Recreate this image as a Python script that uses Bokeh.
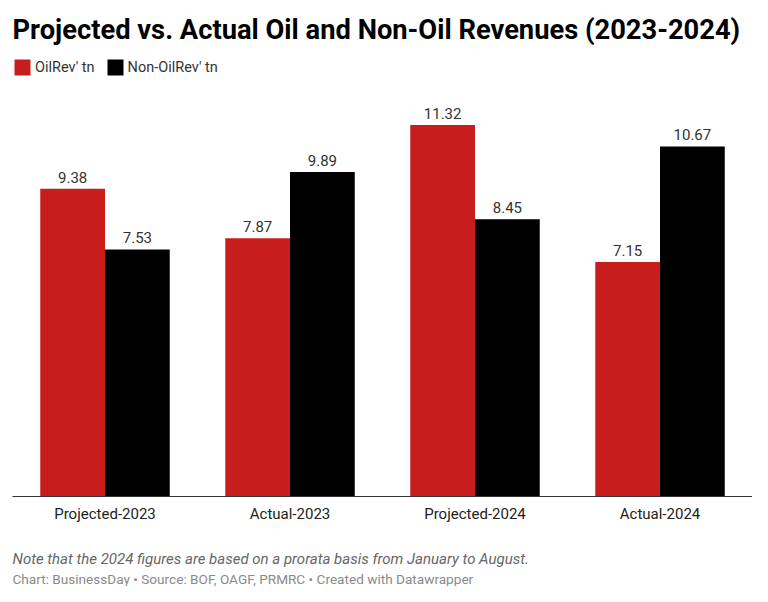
from bokeh.plotting import figure
from bokeh.models import ColumnDataSource, Legend, LegendItem, Title, FactorRange, Range1d
from bokeh.transform import dodge
from bokeh.embed import file_html
from bokeh.resources import INLINE

categories = ["Projected-2023", "Actual-2023", "Projected-2024", "Actual-2024"]
oil_rev = [9.38, 7.87, 11.32, 7.15]
non_oil_rev = [7.53, 9.89, 8.45, 10.67]
series_names = ["OilRev' tn", "Non-OilRev' tn"]

RED = "#c71e1d"
BLACK = "#000000"
FONT = "Roboto"

src = ColumnDataSource(dict(
    cat=categories,
    oil=oil_rev,
    non=non_oil_rev,
    oil_lbl=[f"{v:.2f}" for v in oil_rev],
    non_lbl=[f"{v:.2f}" for v in non_oil_rev],
))

p = figure(
    width=752, height=586,
    x_range=FactorRange(*categories, range_padding=0),
    y_range=Range1d(0, 13.38),
    output_backend="svg", toolbar_location=None,
    min_border_left=12, min_border_right=0,
    min_border_top=57, min_border_bottom=0,
)
p.outline_line_color = None
p.background_fill_color = "white"
p.border_fill_color = "white"

r1 = p.vbar(x=dodge("cat", -0.175, range=p.x_range), top="oil", width=0.35,
            source=src, fill_color=RED, line_color=None)
r2 = p.vbar(x=dodge("cat", 0.175, range=p.x_range), top="non", width=0.35,
            source=src, fill_color=BLACK, line_color=None)

for col, lbl, off in (("oil", "oil_lbl", -0.175), ("non", "non_lbl", 0.175)):
    p.text(x=dodge("cat", off, range=p.x_range), y=col, text=lbl, source=src,
           text_align="center", text_baseline="bottom", y_offset=-6,
           text_font={"value": FONT}, text_font_size="15px", text_color="#333333")

p.yaxis.visible = False
p.xgrid.visible = False
p.ygrid.visible = False
ax = p.xaxis[0]
ax.axis_line_color = "#333333"
ax.axis_line_width = 1
ax.major_tick_line_color = None
ax.minor_tick_line_color = None
ax.major_tick_out = 0
ax.major_tick_in = 0
ax.major_label_text_font = FONT
ax.major_label_text_font_size = "15px"
ax.major_label_text_color = "#222222"
ax.major_label_standoff = 8

p.title.text = "Projected vs. Actual Oil and Non-Oil Revenues (2023-2024)"
p.title.text_font = FONT
p.title.text_font_style = "bold"
p.title.text_font_size = "27.3px"
p.title.text_color = "#000000"
p.title.offset = 0
p.title.standoff = 23

legend = Legend(items=[LegendItem(label=series_names[0], renderers=[r1]),
                       LegendItem(label=series_names[1], renderers=[r2])],
                orientation="horizontal", location="top_left",
                glyph_width=20, glyph_height=20, label_text_font=FONT,
                label_text_font_size="14.5px", label_text_color="#333333",
                label_height=20,
                padding=0, margin=0, spacing=10, label_standoff=3,
                border_line_color=None, background_fill_alpha=0)
p.add_layout(legend, "center")

spacer = Title(text=" ", text_font=FONT, text_font_size="2px", offset=0, standoff=17)
note = Title(text="Note that the 2024 figures are based on a prorata basis from January to August.",
             text_font=FONT, text_font_style="italic", text_font_size="15px",
             text_color="#666666", offset=0, standoff=2)
credit = Title(text="Chart: BusinessDay \u2022 Source: BOF, OAGF, PRMRC \u2022 Created with Datawrapper",
               text_font=FONT, text_font_style="normal", text_font_size="13.6px",
               text_color="#8a8a8a", offset=0, standoff=0)
p.add_layout(spacer, "below")
p.add_layout(note, "below")
p.add_layout(credit, "below")

open("out.html", "w").write(file_html(p, INLINE))
